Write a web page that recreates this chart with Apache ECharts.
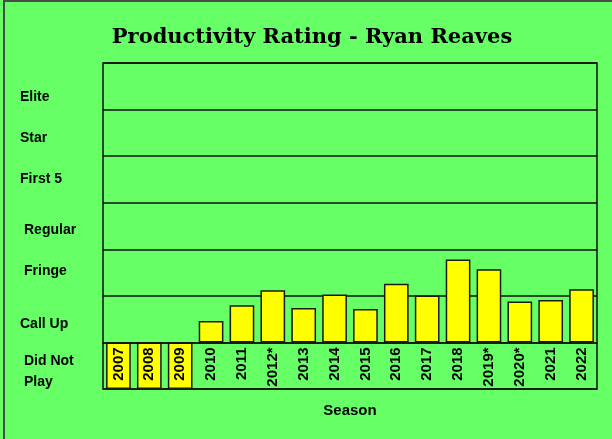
<!DOCTYPE html>
<html>
<head>
<meta charset="utf-8">
<script src="https://cdn.jsdelivr.net/npm/echarts@6/dist/echarts.min.js"></script>
<style>
  html, body { margin: 0; padding: 0; background: #66ff66; }
  #wrap { position: relative; width: 612px; height: 439px; overflow: hidden; }
  #chart { width: 612px; height: 439px; }
  #frame { position: absolute; left: 3px; top: 0; width: 700px; height: 500px;
           border-left: 2px solid #4a4a4a; border-top: 2px solid #4a4a4a; pointer-events: none; }
</style>
</head>
<body>
<div id="wrap">
  <div id="chart"></div>
  <div id="frame"></div>
</div>
<script>
// Seasons along the x axis
const seasons = ['2007', '2008', '2009', '2010', '2011', '2012*', '2013', '2014',
                 '2015', '2016', '2017', '2018', '2019*', '2020*', '2021', '2022'];
// Productivity rating per season (tier units: 0 = bottom of Call Up, 1 = Fringe, ...)
const ratings = [null, null, null, 0.46, 0.80, 1.12, 0.74, 1.03,
                 0.72, 1.26, 1.01, 1.78, 1.57, 0.88, 0.91, 1.14];
// Seasons not played fill the "Did Not Play" band
const didNotPlay = [-1, -1, -1, null, null, null, null, null,
                    null, null, null, null, null, null, null, null];
// Tier names, bottom to top
const tiers = ['Did Not\nPlay', 'Call Up', 'Fringe', 'Regular', 'First 5', 'Star', 'Elite'];

// rich style key for each tier label (indent and vertical nudge)
const tierStyle = {
  'Did Not\nPlay': 'dnp', 'Call Up': 'call', 'Fringe': 'fringe', 'Regular': 'reg',
  'First 5': 'first', 'Star': 'star', 'Elite': 'elite'
};

const GRID_TOP = 63, GRID_BOTTOM = 50, CHART_H = 439;
const yMin = -1, yMax = 6;
// one tier band in pixels; the category axis sits on the zero line
const band = (CHART_H - GRID_TOP - GRID_BOTTOM) / (yMax - yMin);

const chart = echarts.init(document.getElementById('chart'), null, { renderer: 'canvas' });

const labelFont = '"Liberation Sans", Arial, sans-serif';
const barStyle = { color: '#ffff00', borderColor: '#1a1a1a', borderWidth: 1.5 };
const tierText = (padding, extra) => Object.assign(
  { fontFamily: labelFont, fontWeight: 'bold', fontSize: 14, color: '#000', padding: padding }, extra || {});

chart.setOption({
  backgroundColor: '#66ff66',
  animation: false,
  title: {
    text: 'Productivity Rating - Ryan Reaves',
    left: 307, top: 22, textAlign: 'center',
    textStyle: { fontFamily: '"DejaVu Serif", serif', fontWeight: 'bold', fontSize: 21, color: '#000' }
  },
  grid: {
    left: 103, right: 15, top: GRID_TOP, bottom: GRID_BOTTOM,
    outerBoundsMode: 'none',
    containLabel: false,
    show: true, borderColor: '#111', borderWidth: 1.5, backgroundColor: 'transparent'
  },
  xAxis: {
    type: 'category',
    data: seasons,
    z: 10,
    offset: -band,
    axisLine: { onZero: false, lineStyle: { color: '#111', width: 1.5 } },
    axisTick: { show: false },
    axisLabel: {
      rotate: 90, margin: 5, interval: 0,
      fontFamily: labelFont, fontWeight: 'bold', fontSize: 15, color: '#000'
    },
    name: 'Season',
    nameLocation: 'middle',
    nameGap: 61,
    nameTextStyle: { fontFamily: labelFont, fontWeight: 'bold', fontSize: 15, color: '#000' }
  },
  yAxis: [
    {
      type: 'value', min: yMin, max: yMax, interval: 1,
      axisLine: { show: false }, axisTick: { show: false }, axisLabel: { show: false },
      splitLine: { show: true, lineStyle: { color: '#111', width: 1.5 } }
    },
    {
      type: 'category', data: tiers, position: 'left', boundaryGap: true,
      axisLine: { show: false }, axisTick: { show: false }, splitLine: { show: false },
      axisLabel: {
        align: 'left', margin: 83, interval: 0,
        formatter: v => '{' + tierStyle[v] + '|' + v + '}',
        rich: {
          elite: tierText([22, 0, 0, 0]),
          star: tierText([10, 0, 0, 0]),
          first: tierText([0, 0, 0, 0]),
          reg: tierText([8, 0, 0, 4]),
          fringe: tierText([0, 0, 2, 4]),
          call: tierText([10, 0, 0, 0]),
          dnp: tierText([12, 0, 0, 4], { lineHeight: 21 })
        }
      }
    }
  ],
  series: [
    {
      type: 'bar', data: ratings, yAxisIndex: 0, barWidth: '80%', barGap: '-100%',
      itemStyle: barStyle
    },
    {
      type: 'bar', data: didNotPlay, yAxisIndex: 0, barWidth: '80%', barGap: '-100%',
      itemStyle: barStyle
    }
  ]
});
</script>
</body>
</html>
